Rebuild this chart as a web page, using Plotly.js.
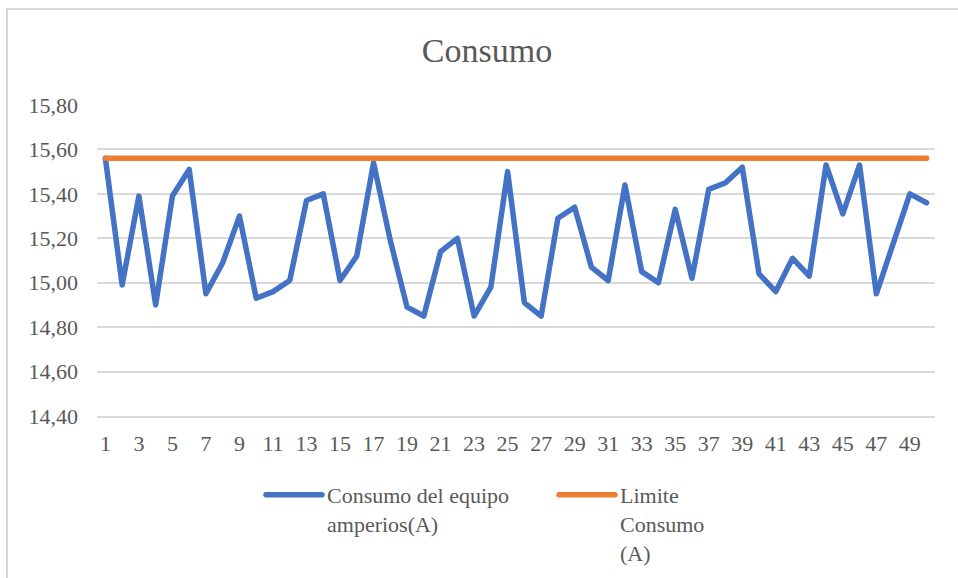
<!DOCTYPE html>
<html>
<head>
<meta charset="utf-8">
<script src="https://cdn.plot.ly/plotly-3.0.1.min.js"></script>
<style>
  html, body { margin: 0; padding: 0; background: #ffffff; }
  #chart { width: 958px; height: 578px; }
  #frame { position: absolute; left: 6px; top: 8px; width: 1000px; height: 600px;
           border: 2px solid #d9d9d9; pointer-events: none; box-sizing: border-box; }
  .scatterlayer path.js-line, .legend path.js-line { stroke-linejoin: round !important; stroke-linecap: round !important; }
</style>
</head>
<body>
<div id="chart"></div>
<div id="frame"></div>
<script>
// Categories (sample number)
const muestras = [1,2,3,4,5,6,7,8,9,10,11,12,13,14,15,16,17,18,19,20,21,22,23,24,25,
                  26,27,28,29,30,31,32,33,34,35,36,37,38,39,40,41,42,43,44,45,46,47,48,49,50];
// Series: Consumo del equipo amperios(A)
const consumo = [15.56,14.99,15.39,14.90,15.39,15.51,14.95,15.09,15.30,14.93,
                 14.96,15.01,15.37,15.40,15.01,15.12,15.54,15.19,14.89,14.85,
                 15.14,15.20,14.85,14.98,15.50,14.91,14.85,15.29,15.34,15.07,
                 15.01,15.44,15.05,15.00,15.33,15.02,15.42,15.45,15.52,15.04,
                 14.96,15.11,15.03,15.53,15.31,15.53,14.95,15.18,15.40,15.36];
// Series: Limite Consumo (A)
const limite = [15.56,15.56,15.56,15.56,15.56,15.56,15.56,15.56,15.56,15.56,
                15.56,15.56,15.56,15.56,15.56,15.56,15.56,15.56,15.56,15.56,
                15.56,15.56,15.56,15.56,15.56,15.56,15.56,15.56,15.56,15.56,
                15.56,15.56,15.56,15.56,15.56,15.56,15.56,15.56,15.56,15.56,
                15.56,15.56,15.56,15.56,15.56,15.56,15.56,15.56,15.56,15.56];
const nombres = ["Consumo del equipo<br>amperios(A)", "Limite<br>Consumo<br>(A)"];
const yTicks = [14.40,14.60,14.80,15.00,15.20,15.40,15.60,15.80];

const FONT = "Liberation Serif, Times New Roman, serif";
const GREY = "#595959";

const data = [
  { x: muestras, y: consumo, type: "scatter", mode: "lines", name: nombres[0],
    line: { color: "#4472C4", width: 5.5 } },
  { x: muestras, y: limite, type: "scatter", mode: "lines", name: nombres[1],
    line: { color: "#ED7D31", width: 5.5 } }
];

const layout = {
  width: 958, height: 578,
  separators: ",.",
  paper_bgcolor: "#ffffff", plot_bgcolor: "#ffffff",
  margin: { l: 97, r: 23, t: 105, b: 162, autoexpand: false },
  font: { family: FONT, color: GREY, size: 22 },
  title: { text: "Consumo", font: { family: FONT, size: 34, color: GREY },
           x: 487/958, xref: "container", xanchor: "center",
           y: 1 - 50/578, yref: "container", yanchor: "middle" },
  xaxis: {
    range: [0.5, 50.5], tickmode: "linear", tick0: 1, dtick: 2,
    showgrid: false, zeroline: false, showline: true, linecolor: "#d9d9d9", linewidth: 2,
    ticks: "", ticklabelstandoff: 7,
    tickfont: { family: FONT, size: 22, color: GREY }
  },
  yaxis: {
    range: [14.40, 15.80], tickvals: yTicks, tickformat: ".2f",
    showgrid: true, gridcolor: "#d9d9d9", gridwidth: 2,
    zeroline: false, showline: false, ticks: "",
    ticklabelstandoff: 18,
    tickfont: { family: FONT, size: 22, color: GREY }
  },
  showlegend: true,
  legend: {
    orientation: "h", x: (261-97)/838, xanchor: "left", xref: "paper",
    y: (416-474)/311, yanchor: "top", yref: "paper",
    valign: "top", itemwidth: 56, entrywidth: 222, entrywidthmode: "pixels",
    font: { family: FONT, size: 22, color: GREY },
    bgcolor: "rgba(0,0,0,0)", borderwidth: 0, tracegroupgap: 0
  },
  hovermode: false
};

Plotly.newPlot("chart", data, layout, { displayModeBar: false, staticPlot: true });
</script>
</body>
</html>
